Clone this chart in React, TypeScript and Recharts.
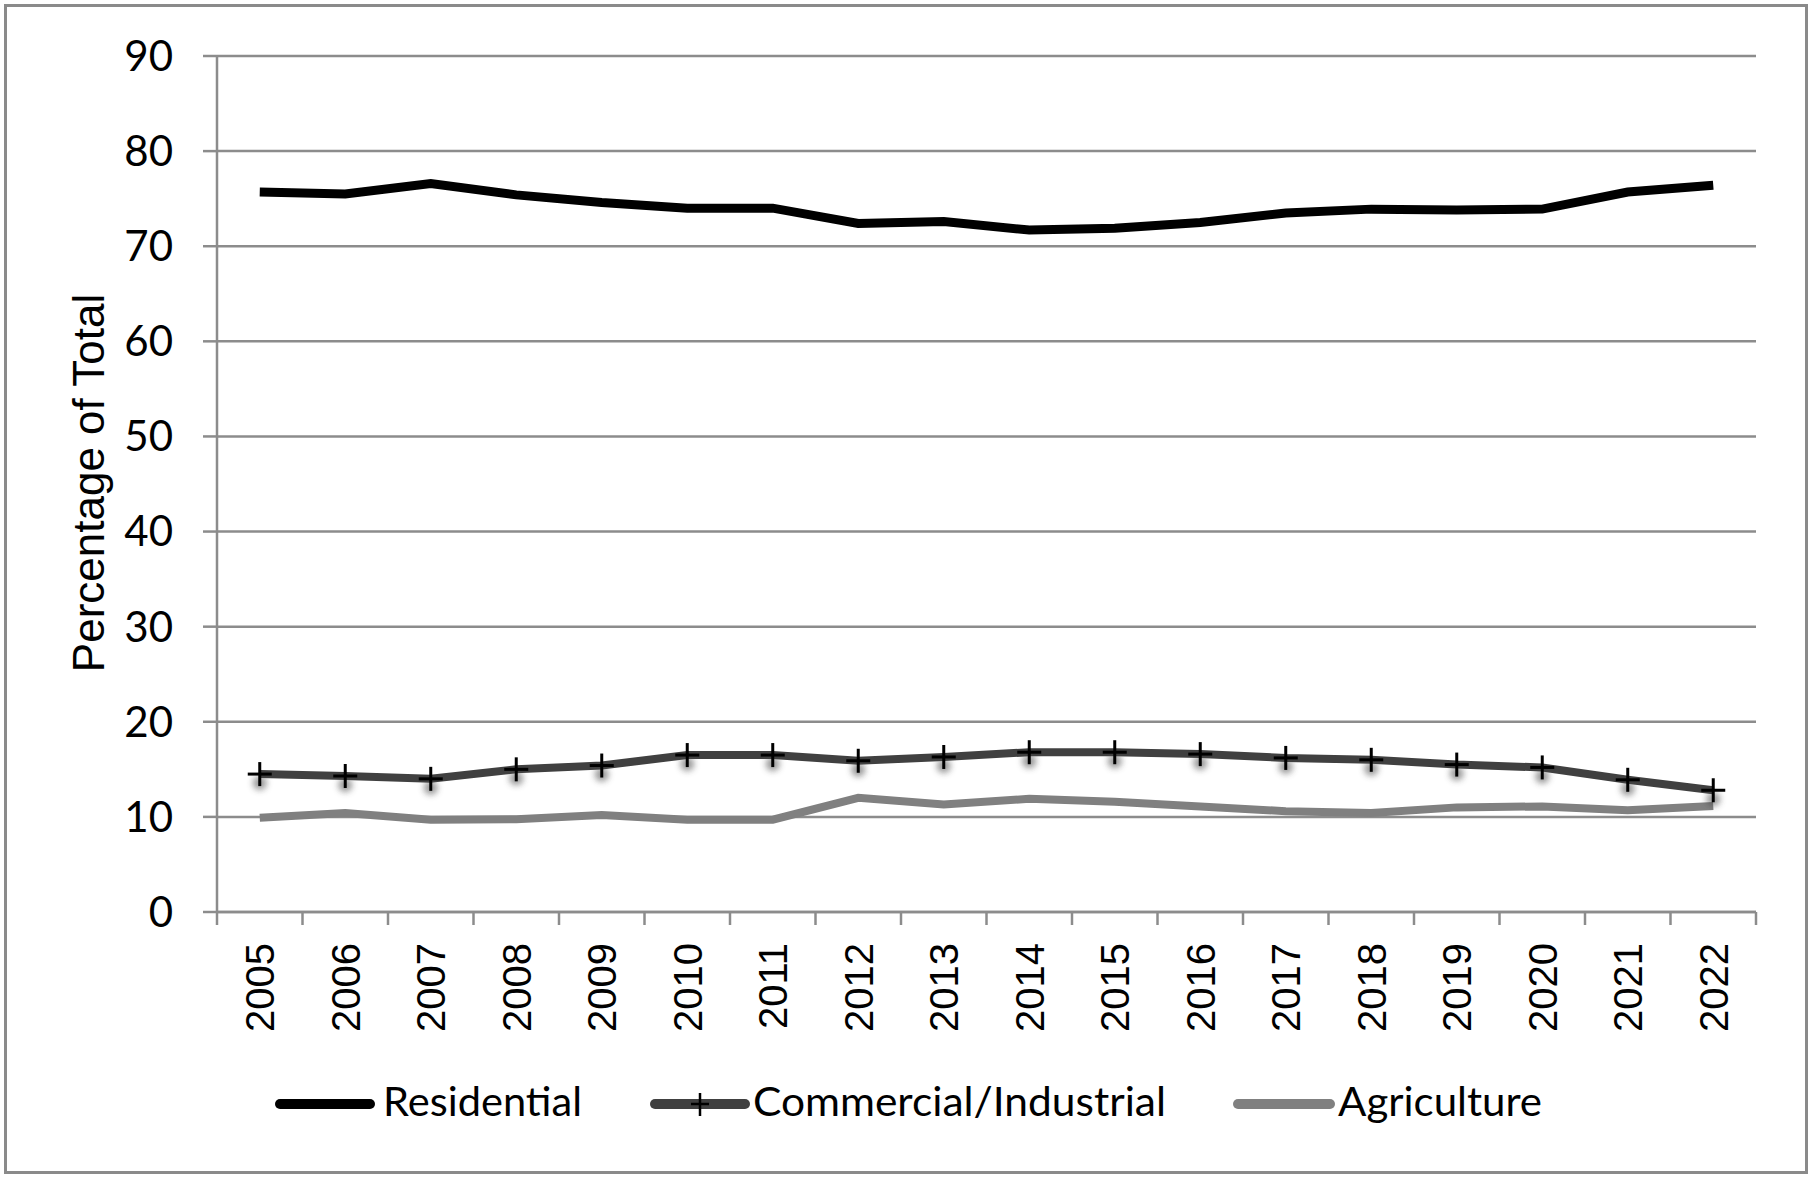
import React from "react";
import { CartesianGrid, Legend, Line, LineChart, XAxis, YAxis } from "recharts";

const years = [
  "2005", "2006", "2007", "2008", "2009", "2010", "2011", "2012", "2013",
  "2014", "2015", "2016", "2017", "2018", "2019", "2020", "2021", "2022",
];
const residential = [
  75.7, 75.5, 76.6, 75.4, 74.6, 74.0, 74.0, 72.4, 72.6, 71.7, 71.9, 72.5, 73.5,
  73.9, 73.8, 73.9, 75.7, 76.4,
];
const commercial = [
  14.5, 14.3, 14.0, 15.0, 15.4, 16.5, 16.5, 15.9, 16.3, 16.8, 16.8, 16.6, 16.2,
  16.0, 15.5, 15.2, 13.9, 12.8,
];
const agriculture = [
  9.9, 10.4, 9.7, 9.75, 10.2, 9.7, 9.7, 12.0, 11.3, 11.9, 11.6, 11.1, 10.6,
  10.4, 11.0, 11.1, 10.7, 11.15,
];
const seriesNames = ["Residential", "Commercial/Industrial", "Agriculture"];
const yTicks = [0, 10, 20, 30, 40, 50, 60, 70, 80, 90];

const data = years.map((year, i) => ({
  year,
  residential: residential[i],
  commercial: commercial[i],
  agriculture: agriculture[i],
}));

const W = 1814;
const H = 1182;
const PLOT_LEFT = 217;
const PLOT_RIGHT = 1756;
const BAND = (PLOT_RIGHT - PLOT_LEFT) / years.length;
const GRID = "#8c8c8c";
const SANS = "'Liberation Sans', Arial, sans-serif";
const LEGEND_FONT = "Lato, 'Liberation Sans', sans-serif";

function YearTick(props: any) {
  const { x, y, payload, index } = props;
  const half = BAND / 2;
  return (
    <g>
      <line x1={x - half} x2={x - half} y1={y} y2={y + 13} stroke={GRID} strokeWidth={2.5} />
      {index === years.length - 1 && (
        <line x1={x + half} x2={x + half} y1={y} y2={y + 13} stroke={GRID} strokeWidth={2.5} />
      )}
      <text
        transform={`translate(${x},${y + 31}) rotate(-90)`}
        textAnchor="end"
        dy="0.36em"
        fontSize={40}
        fontFamily={SANS}
        fill="#000"
      >
        {payload.value}
      </text>
    </g>
  );
}

function PlusDot(props: any) {
  const { cx, cy } = props;
  if (cx == null || cy == null) return null;
  return (
    <g>
      <circle cx={cx} cy={cy + 9} r={7} fill="#444" opacity={0.55} filter="url(#plusShadow)" />
      <line x1={cx - 12} x2={cx + 12} y1={cy} y2={cy} stroke="#000" strokeWidth={3} />
      <line x1={cx} x2={cx} y1={cy - 12} y2={cy + 12} stroke="#000" strokeWidth={3} />
    </g>
  );
}

function YTitle() {
  return (
    <text
      transform="translate(104,483) rotate(-90)"
      textAnchor="middle"
      fontSize={44}
      fontFamily={SANS}
      fill="#000"
    >
      Percentage of Total
    </text>
  );
}

const legendSlots = [
  { x1: 280, x2: 370, tx: 383, tw: 199 },
  { x1: 655, x2: 745, tx: 753, tw: 413 },
  { x1: 1238, x2: 1330, tx: 1338, tw: 204 },
];

function LegendContent(props: any) {
  const payload = [...(props.payload || [])].sort(
    (a: any, b: any) => seriesNames.indexOf(a.value) - seriesNames.indexOf(b.value)
  );
  return (
    <svg width={W} height={80} style={{ display: "block" }}>
      {payload.map((item: any, i: number) => {
        const s = legendSlots[i];
        if (!s) return null;
        const cx = (s.x1 + s.x2) / 2;
        return (
          <g key={item.value}>
            <line x1={s.x1} x2={s.x2} y1={44} y2={44} stroke={item.color} strokeWidth={10} strokeLinecap="round" />
            {item.value === "Commercial/Industrial" && (
              <g>
                <line x1={cx - 9} x2={cx + 9} y1={44} y2={44} stroke="#000" strokeWidth={2.5} />
                <line x1={cx} x2={cx} y1={33} y2={56} stroke="#000" strokeWidth={2.5} />
              </g>
            )}
            <text
              x={s.tx}
              y={56}
              fontSize={40}
              fontFamily={LEGEND_FONT}
              textLength={s.tw}
              lengthAdjust="spacingAndGlyphs"
              fill="#000"
            >
              {item.value}
            </text>
          </g>
        );
      })}
    </svg>
  );
}

export default function App() {
  return (
    <div style={{ position: "absolute", left: 0, top: 0, width: W, height: H, background: "#fff" }}>
      <svg width={0} height={0} style={{ position: "absolute" }}>
        <defs>
          <filter id="plusShadow" x="-100%" y="-100%" width="300%" height="300%">
            <feGaussianBlur stdDeviation={3} />
          </filter>
        </defs>
      </svg>
      <div
        style={{
          position: "absolute",
          left: 4,
          top: 4,
          width: 1804,
          height: 1170,
          border: "3px solid #8a8a8a",
          boxSizing: "border-box",
        }}
      />
      <div style={{ position: "absolute", left: 0, top: 0 }}>
        <LineChart
          width={W}
          height={H}
          data={data}
          margin={{ top: 56, right: W - PLOT_RIGHT, left: 0, bottom: 150 }}
        >
          <CartesianGrid vertical={false} stroke={GRID} strokeWidth={2.5} />
          <XAxis
            dataKey="year"
            interval={0}
            height={120}
            padding={{ left: BAND / 2, right: BAND / 2 }}
            tickSize={0}
            tickMargin={0}
            tickLine={false}
            axisLine={{ stroke: GRID, strokeWidth: 2.5 }}
            tick={<YearTick />}
          />
          <YAxis
            domain={[0, 90]}
            ticks={yTicks}
            width={PLOT_LEFT}
            tickSize={14}
            tickMargin={30}
            axisLine={{ stroke: GRID, strokeWidth: 2.5 }}
            tickLine={{ stroke: GRID, strokeWidth: 2.5 }}
            tick={{ fill: "#000", fontSize: 42, fontFamily: LEGEND_FONT }}
            label={<YTitle />}
          />
          <Legend
            verticalAlign="middle"
            align="center"
            layout="horizontal"
            wrapperStyle={{ left: 0, top: 1060, width: W, height: 80 }}
            content={<LegendContent />}
          />
          <Line
            name="Residential"
            dataKey="residential"
            stroke="#000000"
            strokeWidth={9}
            dot={false}
            isAnimationActive={false}
          />
          <Line
            name="Agriculture"
            dataKey="agriculture"
            stroke="#808080"
            strokeWidth={8}
            dot={false}
            isAnimationActive={false}
          />
          <Line
            name="Commercial/Industrial"
            dataKey="commercial"
            stroke="#404040"
            strokeWidth={8}
            dot={<PlusDot />}
            isAnimationActive={false}
          />
        </LineChart>
      </div>
    </div>
  );
}
